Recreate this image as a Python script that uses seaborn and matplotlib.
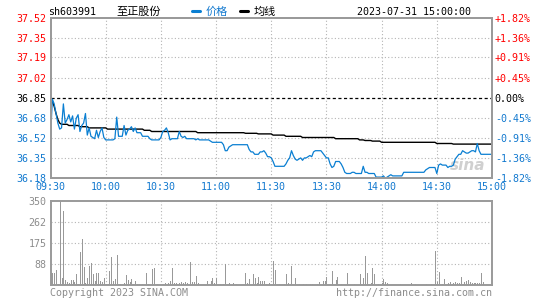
import matplotlib
matplotlib.use("Agg")
import matplotlib.pyplot as plt
import seaborn as sns
import pandas as pd

# ---------------- data ----------------
stock_code = "sh603991"
stock_name = "至正股份"
timestamp = "2023-07-31 15:00:00"
prev_close = 36.85

price_ticks = [37.52, 37.35, 37.19, 37.02, 36.85, 36.68, 36.52, 36.35, 36.18]
pct_labels = ["+1.82%", "+1.36%", "+0.91%", "+0.45%", "0.00%",
              "-0.45%", "-0.91%", "-1.36%", "-1.82%"]
time_labels = ["09:30", "10:00", "10:30", "11:00", "11:30",
               "13:30", "14:00", "14:30", "15:00"]
vol_ticks = [350, 262, 175, 88]

price = [
    36.51, 36.84, 36.80, 36.72, 36.64, 36.59, 36.60, 36.80, 36.64, 36.67,
    36.71, 36.65, 36.70, 36.59, 36.68, 36.71, 36.57, 36.62, 36.64, 36.72,
    36.54, 36.60, 36.53, 36.52, 36.51, 36.58, 36.52, 36.57, 36.60, 36.52,
    36.50, 36.50, 36.50, 36.50, 36.50, 36.51, 36.69, 36.53, 36.53, 36.53,
    36.62, 36.54, 36.58, 36.59, 36.61, 36.57, 36.60, 36.56, 36.56, 36.56,
    36.53, 36.53, 36.53, 36.53, 36.51, 36.50, 36.50, 36.50, 36.50, 36.50,
    36.52, 36.57, 36.58, 36.60, 36.56, 36.50, 36.51, 36.51, 36.51, 36.51,
    36.57, 36.53, 36.52, 36.53, 36.51, 36.51, 36.51, 36.51, 36.51, 36.50,
    36.51, 36.50, 36.50, 36.50, 36.50, 36.50, 36.50, 36.49, 36.48, 36.48,
    36.48, 36.48, 36.48, 36.48, 36.46, 36.41, 36.41, 36.44, 36.45, 36.46,
    36.46, 36.46, 36.46, 36.46, 36.46, 36.46, 36.46, 36.46, 36.42, 36.40,
    36.40, 36.38, 36.38, 36.38, 36.40, 36.40, 36.41, 36.39, 36.36, 36.36,
    36.35, 36.32, 36.28, 36.28, 36.28, 36.28, 36.28, 36.28, 36.30, 36.33,
    36.35, 36.41, 36.37, 36.34, 36.33, 36.34, 36.35, 36.33, 36.35, 36.35,
    36.36, 36.37, 36.36, 36.40, 36.41, 36.41, 36.41, 36.41, 36.39, 36.37,
    36.35, 36.35, 36.30, 36.27, 36.28, 36.32, 36.32, 36.32, 36.30, 36.27,
    36.23, 36.22, 36.22, 36.22, 36.23, 36.23, 36.22, 36.22, 36.22, 36.22,
    36.28, 36.23, 36.23, 36.22, 36.22, 36.22, 36.22, 36.19, 36.19, 36.19,
    36.19, 36.20, 36.18, 36.19, 36.20, 36.21, 36.20, 36.20, 36.20, 36.20,
    36.20, 36.20, 36.23, 36.23, 36.23, 36.23, 36.23, 36.23, 36.23, 36.23,
    36.23, 36.23, 36.23, 36.23, 36.25, 36.26, 36.27, 36.27, 36.27, 36.27,
    36.22, 36.29, 36.30, 36.29, 36.29, 36.29, 36.27, 36.28, 36.28, 36.29,
    36.34, 36.36, 36.38, 36.38, 36.41, 36.40, 36.39, 36.39, 36.40, 36.41,
    36.41, 36.40, 36.47, 36.41, 36.38, 36.38, 36.38, 36.38, 36.38, 36.38,
    36.38,
]

avg_price = [
    36.82, 36.82, 36.78, 36.72, 36.67, 36.64, 36.63, 36.63, 36.63, 36.63,
    36.62, 36.62, 36.62, 36.62, 36.62, 36.62, 36.61, 36.61, 36.61, 36.61,
    36.61, 36.60, 36.60, 36.60, 36.60, 36.60, 36.60, 36.60, 36.60, 36.60,
    36.60, 36.59, 36.59, 36.59, 36.59, 36.59, 36.59, 36.59, 36.59, 36.59,
    36.59, 36.59, 36.59, 36.59, 36.59, 36.59, 36.59, 36.59, 36.59, 36.59,
    36.59, 36.58, 36.58, 36.58, 36.58, 36.57, 36.57, 36.57, 36.57, 36.57,
    36.57, 36.57, 36.57, 36.57, 36.57, 36.57, 36.57, 36.57, 36.57, 36.57,
    36.57, 36.57, 36.57, 36.57, 36.57, 36.57, 36.57, 36.57, 36.57, 36.57,
    36.56, 36.56, 36.56, 36.56, 36.56, 36.56, 36.56, 36.56, 36.56, 36.56,
    36.56, 36.56, 36.56, 36.56, 36.56, 36.56, 36.56, 36.56, 36.56, 36.56,
    36.56, 36.56, 36.56, 36.56, 36.56, 36.56, 36.555, 36.555, 36.555, 36.555,
    36.555, 36.555, 36.555, 36.55, 36.55, 36.55, 36.55, 36.55, 36.55, 36.55,
    36.55, 36.54, 36.54, 36.54, 36.54, 36.54, 36.54, 36.54, 36.53, 36.53,
    36.53, 36.53, 36.53, 36.53, 36.53, 36.53, 36.53, 36.52, 36.52, 36.52,
    36.52, 36.52, 36.52, 36.52, 36.52, 36.52, 36.52, 36.52, 36.52, 36.52,
    36.52, 36.52, 36.52, 36.52, 36.52, 36.51, 36.51, 36.51, 36.51, 36.51,
    36.51, 36.51, 36.51, 36.51, 36.51, 36.51, 36.51, 36.51, 36.50, 36.50,
    36.50, 36.495, 36.495, 36.495, 36.495, 36.49, 36.49, 36.49, 36.49, 36.49,
    36.48, 36.48, 36.48, 36.48, 36.48, 36.48, 36.48, 36.48, 36.48, 36.48,
    36.48, 36.48, 36.48, 36.48, 36.48, 36.48, 36.48, 36.48, 36.48, 36.48,
    36.48, 36.48, 36.48, 36.48, 36.48, 36.48, 36.48, 36.48, 36.48, 36.48,
    36.47, 36.47, 36.47, 36.47, 36.47, 36.47, 36.47, 36.47, 36.47, 36.465,
    36.465, 36.465, 36.465, 36.465, 36.465, 36.465, 36.465, 36.465, 36.465, 36.465,
    36.465, 36.465, 36.465, 36.465, 36.465, 36.465, 36.465, 36.465, 36.465, 36.465,
    36.465,
]

volume = [
    49, 49, 49, 62, 3, 350, 31, 308, 21, 14,
    8, 21, 21, 14, 44, 3, 139, 192, 76, 10,
    31, 81, 90, 44, 17, 51, 49, 17, 14, 31,
    3, 3, 58, 118, 17, 25, 125, 0, 3, 0,
    7, 42, 21, 14, 24, 3, 17, 4, 4, 0,
    3, 0, 49, 3, 0, 67, 72, 0, 4, 0,
    0, 3, 7, 0, 10, 17, 72, 7, 10, 0,
    10, 14, 10, 14, 10, 0, 94, 14, 14, 39,
    7, 0, 0, 0, 0, 18, 0, 18, 28, 10,
    28, 0, 3, 0, 3, 86, 0, 7, 0, 7,
    0, 4, 0, 0, 0, 0, 49, 7, 25, 0,
    44, 31, 10, 35, 17, 17, 17, 4, 0, 7,
    3, 100, 62, 0, 3, 0, 0, 3, 44, 7,
    6, 79, 0, 28, 0, 3, 0, 3, 0, 3,
    0, 3, 3, 0, 0, 3, 12, 0, 18, 18,
    32, 0, 0, 58, 0, 20, 33, 0, 3, 0,
    0, 51, 0, 0, 0, 3, 0, 0, 46, 3,
    28, 121, 49, 0, 10, 72, 46, 0, 3, 0,
    10, 25, 14, 10, 0, 0, 0, 0, 0, 0,
    3, 0, 0, 0, 0, 0, 7, 0, 3, 0,
    0, 0, 0, 0, 3, 0, 0, 4, 0, 142,
    14, 53, 0, 3, 24, 0, 10, 14, 3, 10,
    14, 10, 10, 35, 3, 14, 18, 20, 14, 10,
    7, 7, 10, 10, 51, 14, 0, 0, 0, 0,
    0,
]

# ---------------- style ----------------
sns.set_theme(style="white")
plt.rcParams['font.family'] = ['DejaVu Sans Mono', 'Noto Sans CJK SC']

RED = "#ff0000"
BLUE = "#1279cf"
LINE_BLUE = "#0a7fd2"
GRAY = "#8c8c8c"
FRAME = "#9a9a9a"
GRID = "#b4b4b4"
FS = 7.2

W, H = 545, 300
minutes = list(range(len(price)))
df = pd.DataFrame({"minute": minutes, "price": price, "avg": avg_price, "volume": volume})

fig = plt.figure(figsize=(W / 100, H / 100), dpi=100)
fig.patch.set_facecolor("white")


def ax_rect(left, top, right, bottom):
    return [left / W, 1 - bottom / H, (right - left) / W, (bottom - top) / H]


ax1 = fig.add_axes(ax_rect(50.5, 17.5, 492, 178.3))
ax2 = fig.add_axes(ax_rect(50.5, 201, 492, 285))

# ---- price panel ----
ax1.set_xlim(0, 240)
ax1.set_ylim(price_ticks[-1], price_ticks[0])
for t in price_ticks[1:-1]:
    if t == prev_close:
        ax1.axhline(t, color="black", lw=0.9, ls=(0, (2.5, 2)), zorder=1)
    else:
        ax1.axhline(t, color=GRID, lw=0.8, ls=(0, (1, 2)), zorder=1)
for xv in range(30, 240, 30):
    ax1.axvline(xv, color=GRID, lw=0.8, ls=(0, (1, 2)), zorder=1)

sns.lineplot(data=df, x="minute", y="avg", ax=ax1, color="black", lw=1.0, zorder=3)
sns.lineplot(data=df, x="minute", y="price", ax=ax1, color=LINE_BLUE, lw=0.9, zorder=4)

ax1.set_yticks(price_ticks)
ax1.set_yticklabels([f"{t:.2f}" for t in price_ticks], fontsize=FS)
for lab, t in zip(ax1.get_yticklabels(), price_ticks):
    lab.set_color(RED if t > prev_close else ("black" if t == prev_close else BLUE))
ax1.set_xticks(range(0, 241, 30))
ax1.set_xticklabels(time_labels, fontsize=FS, color=BLUE)
ax1.tick_params(axis="both", length=0, pad=3)
ax1.set_xlabel("")
ax1.set_ylabel("")

axr = ax1.twinx()
axr.set_ylim(ax1.get_ylim())
axr.set_yticks(price_ticks)
axr.set_yticklabels(pct_labels, fontsize=FS)
for lab, t in zip(axr.get_yticklabels(), price_ticks):
    lab.set_color(RED if t > prev_close else ("black" if t == prev_close else BLUE))
axr.tick_params(axis="y", length=0, pad=2)
axr.grid(False)

for a in (ax1, axr):
    for s in a.spines.values():
        s.set_color(FRAME)
        s.set_linewidth(1.4)

# watermark
ax1.text(0.985, 0.03, "sina", transform=ax1.transAxes, ha="right", va="bottom",
         fontsize=11, fontstyle="italic", fontweight="bold", color="#d0d0d0",
         family="DejaVu Sans", zorder=2)

# ---- volume panel ----
ax2.set_xlim(0, 240)
ax2.set_ylim(0, vol_ticks[0])
for t in vol_ticks[1:]:
    ax2.axhline(t, color=GRID, lw=0.8, ls=(0, (1, 2)), zorder=1)
for xv in range(30, 240, 30):
    ax2.axvline(xv, color=GRID, lw=0.8, ls=(0, (1, 2)), zorder=1)
ax2.vlines(df["minute"], 0, df["volume"], color="#999999", lw=0.72,
           antialiased=False, zorder=3)
ax2.set_yticks(vol_ticks)
ax2.set_yticklabels([str(v) for v in vol_ticks], fontsize=FS, color=GRAY)
ax2.set_xticks([])
ax2.tick_params(axis="y", length=0, pad=3)
for s in ax2.spines.values():
    s.set_color(FRAME)
    s.set_linewidth(1.4)


# ---- header / footer texts ----
def ftext(x, y, s, **kw):
    fig.text(x / W, 1 - y / H, s, va="center", **kw)


ftext(48, 12, stock_code, fontsize=FS, color="black")
ftext(116, 12, stock_name, fontsize=8, color="black", family=["Noto Sans CJK SC"])
fig.add_artist(plt.Line2D([192 / W, 200 / W], [1 - 10.5 / H, 1 - 10.5 / H],
                          color=LINE_BLUE, lw=2.2))
ftext(206, 12, "价格", fontsize=8, color=BLUE, family=["Noto Sans CJK SC"])
fig.add_artist(plt.Line2D([240 / W, 248 / W], [1 - 10.5 / H, 1 - 10.5 / H],
                          color="black", lw=2.2))
ftext(254, 12, "均线", fontsize=8, color="black", family=["Noto Sans CJK SC"])
ftext(471, 12, timestamp, fontsize=FS, color="black", ha="right")

ftext(50, 293, "Copyright 2023 SINA.COM", fontsize=FS, color=GRAY)
ftext(492, 293, "http://finance.sina.com.cn", fontsize=FS, color=GRAY, ha="right")

fig.savefig("out.png", dpi=100, facecolor="white")
